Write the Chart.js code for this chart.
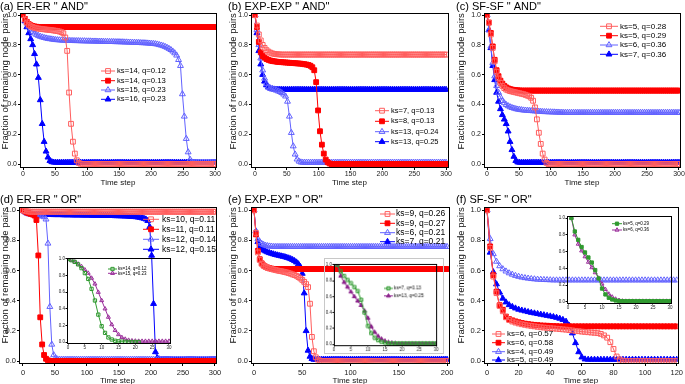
<!DOCTYPE html>
<html>
<head>
<meta charset="utf-8">
<script src="https://cdn.jsdelivr.net/npm/chart.js@4/dist/chart.umd.min.js"></script>
<style>
  body { margin: 0; background: #fff; width: 685px; height: 384px; position: relative; overflow: hidden; }
  canvas { position: absolute; }
</style>
</head>
<body>
<canvas id="pa" width="228" height="190" style="left:0;top:0"></canvas>
<canvas id="pb" width="228" height="190" style="left:228px;top:0"></canvas>
<canvas id="pc" width="229" height="190" style="left:456px;top:0"></canvas>
<canvas id="pd" width="228" height="194" style="left:0;top:190px"></canvas>
<canvas id="pe" width="228" height="194" style="left:228px;top:190px"></canvas>
<canvas id="pf" width="229" height="194" style="left:456px;top:190px"></canvas>
<canvas id="insetD" width="118" height="99" style="left:57px;top:253px"></canvas>
<canvas id="insetE" width="120" height="96" style="left:324px;top:258px;border:1px solid #c8c8c8"></canvas>
<canvas id="insetF" width="119" height="101" style="left:557px;top:211px"></canvas>
<script>
// time steps
const stepsA = [0,3,6,9,12,15,18,21,24,27,30,33,36,39,42,45,48,51,54,57,60,63,66,69,72,75,78,81,84,87,
  90,93,96,99,102,105,108,111,114,117,120,123,126,129,132,135,138,141,144,147,150,153,156,159,162,165,168,171,174,177,
  180,183,186,189,192,195,198,201,204,207,210,213,216,219,222,225,228,231,234,237,240,243,246,249,252,255,258,261,264,267,
  270,273,276,279,282,285,288,291,294,297,300];
const stepsE = [0,2,4,6,8,10,12,14,16,18,20,22,24,26,28,30,32,34,36,38,40,42,44,46,48,50,52,54,56,58,
  60,62,64,66,68,70,72,74,76,78,80,82,84,86,88,90,92,94,96,98,100,102,104,106,108,110,112,114,116,118,
  120,122,124,126,128,130,132,134,136,138,140,142,144,146,148,150,152,154,156,158,160,162,164,166,168,170,172,174,176,178,
  180,182,184,186,188,190,192,194,196,198,200];
const stepsF = [0,2,4,6,8,10,12,14,16,18,20,22,24,26,28,30,32,34,36,38,40,42,44,46,48,50,52,54,56,58,
  60,62,64,66,68,70,72,74,76,78,80,82,84,86,88,90,92,94,96,98,100,102,104,106,108,110,112,114,116,118,120];
const stepsInD = [0,1,2,3,4,5,6,7,8,9,10,11,12,13,14,15,16,17,18,19,20,21,22,23,24,25,26,27,28,29,30];
const stepsInEF = [1,2,3,4,5,6,7,8,9,10,11,12,13,14,15,16,17,18,19,20,21,22,23,24,25,26,27,28,29,30];

// tick labels
const fracTicks = [0, 0.2, 0.4, 0.6, 0.8, 1.0];
const stepTicks300 = [0, 50, 100, 150, 200, 250, 300];
const stepTicks200 = [0, 50, 100, 150, 200];
const stepTicks120 = [0, 20, 40, 60, 80, 100, 120];
const stepTicks30 = [0, 5, 10, 15, 20, 25, 30];

// legend labels
const labelsA = ['ks=14, q=0.12', 'ks=14, q=0.13', 'ks=15, q=0.23', 'ks=16, q=0.23'];
const labelsB = ['ks=7, q=0.13', 'ks=8, q=0.13', 'ks=13, q=0.24', 'ks=13, q=0.25'];
const labelsC = ['ks=5, q=0.28', 'ks=5, q=0.29', 'ks=6, q=0.36', 'ks=7, q=0.36'];
const labelsD = ['ks=10, q=0.11', 'ks=11, q=0.11', 'ks=12, q=0.14', 'ks=12, q=0.15'];
const labelsE = ['ks=9, q=0.26', 'ks=9, q=0.27', 'ks=6, q=0.21', 'ks=7, q=0.21'];
const labelsF = ['ks=6, q=0.57', 'ks=6, q=0.58', 'ks=4, q=0.49', 'ks=5, q=0.49'];
const labelsInD = ['ks=14, q=0.12', 'ks=15, q=0.23'];
const labelsInE = ['ks=7, q=0.13', 'ks=13, q=0.25'];
const labelsInF = ['ks=5, q=0.29', 'ks=6, q=0.36'];

// (a) ER-ER "AND"
const a1 = [1.0,0.97,0.95,0.935,0.925,0.92,0.915,0.912,0.91,0.908,
  0.906,0.905,0.903,0.902,0.9,0.899,0.897,0.895,0.893,0.89,
  0.886,0.878,0.85,0.76,0.48,0.27,0.15,0.07,0.025,0.008,
  0.002,0,0,0,0,0,0,0,0,0, 0,0,0,0,0,0,0,0,0,0, 0,0,0,0,0,0,0,0,0,0,
  0,0,0,0,0,0,0,0,0,0, 0,0,0,0,0,0,0,0,0,0, 0,0,0,0,0,0,0,0,0,0, 0,0,0,0,0,0,0,0,0,0, 0];
const a2 = [1.0,0.975,0.955,0.94,0.932,0.927,0.924,0.922,0.92,0.92,
  0.92,0.92,0.92,0.92,0.92,0.92,0.92,0.92,0.92,0.92, 0.92,0.92,0.92,0.92,0.92,0.92,0.92,0.92,0.92,0.92,
  0.92,0.92,0.92,0.92,0.92,0.92,0.92,0.92,0.92,0.92, 0.92,0.92,0.92,0.92,0.92,0.92,0.92,0.92,0.92,0.92,
  0.92,0.92,0.92,0.92,0.92,0.92,0.92,0.92,0.92,0.92, 0.92,0.92,0.92,0.92,0.92,0.92,0.92,0.92,0.92,0.92,
  0.92,0.92,0.92,0.92,0.92,0.92,0.92,0.92,0.92,0.92, 0.92,0.92,0.92,0.92,0.92,0.92,0.92,0.92,0.92,0.92,
  0.92,0.92,0.92,0.92,0.92,0.92,0.92,0.92,0.92,0.92, 0.92];
const a3 = [1.0,0.97,0.945,0.925,0.905,0.89,0.878,0.869,0.862,0.856,
  0.852,0.848,0.845,0.842,0.84,0.838,0.836,0.834,0.833,0.832,
  0.831,0.83,0.83,0.829,0.829,0.828,0.828,0.827,0.827,0.827,
  0.826,0.826,0.826,0.825,0.825,0.825,0.824,0.824,0.824,0.823,
  0.823,0.823,0.822,0.822,0.822,0.821,0.821,0.821,0.82,0.82,
  0.82,0.819,0.819,0.818,0.818,0.817,0.817,0.816,0.816,0.815,
  0.815,0.814,0.813,0.813,0.812,0.811,0.81,0.809,0.808,0.806,
  0.804,0.8,0.797,0.793,0.788,0.782,0.775,0.767,0.757,0.745,
  0.73,0.7,0.66,0.47,0.32,0.17,0.08,0.03,0.012,0.01,
  0.01,0.01,0.01,0.01,0.01,0.01,0.01,0.01,0.01,0.01, 0.01];
const a4 = [1.0,0.96,0.92,0.88,0.84,0.8,0.74,0.67,0.58,0.43,
  0.27,0.15,0.085,0.045,0.022,0.014,0.011,0.01,0.01,0.01,
  0.01,0.01,0.01,0.01,0.01,0.01,0.01,0.01,0.01,0.01, 0.01,0.01,0.01,0.01,0.01,0.01,0.01,0.01,0.01,0.01,
  0.01,0.01,0.01,0.01,0.01,0.01,0.01,0.01,0.01,0.01, 0.01,0.01,0.01,0.01,0.01,0.01,0.01,0.01,0.01,0.01,
  0.01,0.01,0.01,0.01,0.01,0.01,0.01,0.01,0.01,0.01, 0.01,0.01,0.01,0.01,0.01,0.01,0.01,0.01,0.01,0.01,
  0.01,0.01,0.01,0.01,0.01,0.01,0.01,0.01,0.01,0.01, 0.01,0.01,0.01,0.01,0.01,0.01,0.01,0.01,0.01,0.01, 0.01];

// (b) EXP-EXP "AND"
const b1 = [1.0,0.93,0.87,0.83,0.8,0.78,0.765,0.755,0.748,0.743,
  0.74,0.738,0.737,0.736,0.735,0.735,0.735,0.735,0.735,0.735,
  0.735,0.735,0.735,0.735,0.735,0.735,0.735,0.735,0.735,0.735, 0.735,0.735,0.735,0.735,0.735,0.735,0.735,0.735,0.735,0.735,
  0.735,0.735,0.735,0.735,0.735,0.735,0.735,0.735,0.735,0.735, 0.735,0.735,0.735,0.735,0.735,0.735,0.735,0.735,0.735,0.735,
  0.735,0.735,0.735,0.735,0.735,0.735,0.735,0.735,0.735,0.735, 0.735,0.735,0.735,0.735,0.735,0.735,0.735,0.735,0.735,0.735,
  0.735,0.735,0.735,0.735,0.735,0.735,0.735,0.735,0.735,0.735, 0.735,0.735,0.735,0.735,0.735,0.735,0.735,0.735,0.735,0.735, 0.735];
const b2 = [1.0,0.92,0.82,0.75,0.725,0.715,0.705,0.7,0.695,0.692,
  0.69,0.688,0.686,0.685,0.684,0.683,0.682,0.681,0.68,0.679,
  0.678,0.677,0.676,0.675,0.674,0.672,0.67,0.668,0.665,0.66,
  0.65,0.63,0.55,0.36,0.22,0.13,0.07,0.03,0.012,0.004,
  0,0,0,0,0,0,0,0,0,0, 0,0,0,0,0,0,0,0,0,0, 0,0,0,0,0,0,0,0,0,0,
  0,0,0,0,0,0,0,0,0,0, 0,0,0,0,0,0,0,0,0,0, 0,0,0,0,0,0,0,0,0,0, 0];
const b3 = [1.0,0.9,0.8,0.71,0.63,0.575,0.54,0.52,0.51,0.503,
  0.5,0.495,0.49,0.485,0.478,0.468,0.455,0.42,0.32,0.21,
  0.12,0.065,0.032,0.018,0.012,0.01,0.01,0.01,0.01,0.01,
  0.01,0.01,0.01,0.01,0.01,0.01,0.01,0.01,0.01,0.01, 0.01,0.01,0.01,0.01,0.01,0.01,0.01,0.01,0.01,0.01,
  0.01,0.01,0.01,0.01,0.01,0.01,0.01,0.01,0.01,0.01, 0.01,0.01,0.01,0.01,0.01,0.01,0.01,0.01,0.01,0.01,
  0.01,0.01,0.01,0.01,0.01,0.01,0.01,0.01,0.01,0.01, 0.01,0.01,0.01,0.01,0.01,0.01,0.01,0.01,0.01,0.01,
  0.01,0.01,0.01,0.01,0.01,0.01,0.01,0.01,0.01,0.01, 0.01];
const b4 = [1.0,0.88,0.76,0.67,0.6,0.555,0.53,0.515,0.508,0.504,
  0.502,0.5,0.5,0.5,0.5,0.5,0.5,0.5,0.5,0.5,
  0.5,0.5,0.5,0.5,0.5,0.5,0.5,0.5,0.5,0.5, 0.5,0.5,0.5,0.5,0.5,0.5,0.5,0.5,0.5,0.5,
  0.5,0.5,0.5,0.5,0.5,0.5,0.5,0.5,0.5,0.5, 0.5,0.5,0.5,0.5,0.5,0.5,0.5,0.5,0.5,0.5,
  0.5,0.5,0.5,0.5,0.5,0.5,0.5,0.5,0.5,0.5, 0.5,0.5,0.5,0.5,0.5,0.5,0.5,0.5,0.5,0.5,
  0.5,0.5,0.5,0.5,0.5,0.5,0.5,0.5,0.5,0.5, 0.5,0.5,0.5,0.5,0.5,0.5,0.5,0.5,0.5,0.5, 0.5];

// (c) SF-SF "AND"
const c1 = [1.0,0.95,0.87,0.78,0.69,0.62,0.575,0.545,0.525,0.51,
  0.5,0.495,0.49,0.487,0.484,0.481,0.478,0.475,0.472,0.469,
  0.465,0.46,0.455,0.445,0.425,0.38,0.3,0.21,0.135,0.07,
  0.03,0.008,0,0,0,0,0,0,0,0,
  0,0,0,0,0,0,0,0,0,0, 0,0,0,0,0,0,0,0,0,0, 0,0,0,0,0,0,0,0,0,0,
  0,0,0,0,0,0,0,0,0,0, 0,0,0,0,0,0,0,0,0,0, 0,0,0,0,0,0,0,0,0,0, 0];
const c2 = [1.0,0.95,0.88,0.79,0.7,0.63,0.59,0.56,0.54,0.525,
  0.515,0.508,0.503,0.5,0.498,0.496,0.495,0.494,0.493,0.493,
  0.493,0.493,0.493,0.493,0.493,0.493,0.493,0.493,0.493,0.493, 0.493,0.493,0.493,0.493,0.493,0.493,0.493,0.493,0.493,0.493,
  0.493,0.493,0.493,0.493,0.493,0.493,0.493,0.493,0.493,0.493, 0.493,0.493,0.493,0.493,0.493,0.493,0.493,0.493,0.493,0.493,
  0.493,0.493,0.493,0.493,0.493,0.493,0.493,0.493,0.493,0.493, 0.493,0.493,0.493,0.493,0.493,0.493,0.493,0.493,0.493,0.493,
  0.493,0.493,0.493,0.493,0.493,0.493,0.493,0.493,0.493,0.493, 0.493,0.493,0.493,0.493,0.493,0.493,0.493,0.493,0.493,0.493, 0.493];
const c3 = [1.0,0.9,0.79,0.68,0.59,0.525,0.48,0.45,0.425,0.41,
  0.398,0.39,0.383,0.378,0.374,0.37,0.367,0.365,0.363,0.361,
  0.36,0.359,0.358,0.357,0.356,0.355,0.354,0.353,0.352,0.351,
  0.35,0.35,0.349,0.349,0.348,0.348,0.347,0.347,0.346,0.346,
  0.345,0.345,0.345,0.345,0.345,0.345,0.345,0.345,0.345,0.345, 0.345,0.345,0.345,0.345,0.345,0.345,0.345,0.345,0.345,0.345,
  0.345,0.345,0.345,0.345,0.345,0.345,0.345,0.345,0.345,0.345, 0.345,0.345,0.345,0.345,0.345,0.345,0.345,0.345,0.345,0.345,
  0.345,0.345,0.345,0.345,0.345,0.345,0.345,0.345,0.345,0.345, 0.345,0.345,0.345,0.345,0.345,0.345,0.345,0.345,0.345,0.345, 0.345];
const c4 = [1.0,0.9,0.78,0.66,0.565,0.48,0.42,0.37,0.33,0.3,
  0.27,0.22,0.15,0.095,0.05,0.022,0.012,0.01,0.01,0.01,
  0.01,0.01,0.01,0.01,0.01,0.01,0.01,0.01,0.01,0.01, 0.01,0.01,0.01,0.01,0.01,0.01,0.01,0.01,0.01,0.01,
  0.01,0.01,0.01,0.01,0.01,0.01,0.01,0.01,0.01,0.01, 0.01,0.01,0.01,0.01,0.01,0.01,0.01,0.01,0.01,0.01,
  0.01,0.01,0.01,0.01,0.01,0.01,0.01,0.01,0.01,0.01, 0.01,0.01,0.01,0.01,0.01,0.01,0.01,0.01,0.01,0.01,
  0.01,0.01,0.01,0.01,0.01,0.01,0.01,0.01,0.01,0.01, 0.01,0.01,0.01,0.01,0.01,0.01,0.01,0.01,0.01,0.01, 0.01];

// (d) ER-ER "OR"
const d1 = [1.0,0.996,0.993,0.991,0.99,0.99,0.99,0.99,0.99,0.99,
  0.99,0.99,0.99,0.99,0.99,0.99,0.99,0.99,0.99,0.99, 0.99,0.99,0.99,0.99,0.99,0.99,0.99,0.99,0.99,0.99,
  0.99,0.99,0.99,0.99,0.99,0.99,0.99,0.99,0.99,0.99, 0.99,0.99,0.99,0.99,0.99,0.99,0.99,0.99,0.99,0.99,
  0.99,0.99,0.99,0.99,0.99,0.99,0.99,0.99,0.99,0.99, 0.99,0.99,0.99,0.99,0.99,0.99,0.99,0.99,0.99,0.99,
  0.99,0.99,0.99,0.99,0.99,0.99,0.99,0.99,0.99,0.99, 0.99,0.99,0.99,0.99,0.99,0.99,0.99,0.99,0.99,0.99,
  0.99,0.99,0.99,0.99,0.99,0.99,0.99,0.99,0.99,0.99, 0.99];
const d2 = [1.0,0.992,0.985,0.98,0.976,0.972,0.965,0.935,0.7,0.29,
  0.11,0.04,0.015,0.005,0,0,0,0,0,0,
  0,0,0,0,0,0,0,0,0,0, 0,0,0,0,0,0,0,0,0,0, 0,0,0,0,0,0,0,0,0,0, 0,0,0,0,0,0,0,0,0,0,
  0,0,0,0,0,0,0,0,0,0, 0,0,0,0,0,0,0,0,0,0, 0,0,0,0,0,0,0,0,0,0, 0,0,0,0,0,0,0,0,0,0, 0];
const d3 = [1.0,0.988,0.98,0.975,0.972,0.97,0.968,0.966,0.964,0.962,
  0.96,0.955,0.94,0.78,0.36,0.11,0.04,0.02,0.012,0.01,
  0.01,0.01,0.01,0.01,0.01,0.01,0.01,0.01,0.01,0.01, 0.01,0.01,0.01,0.01,0.01,0.01,0.01,0.01,0.01,0.01,
  0.01,0.01,0.01,0.01,0.01,0.01,0.01,0.01,0.01,0.01, 0.01,0.01,0.01,0.01,0.01,0.01,0.01,0.01,0.01,0.01,
  0.01,0.01,0.01,0.01,0.01,0.01,0.01,0.01,0.01,0.01, 0.01,0.01,0.01,0.01,0.01,0.01,0.01,0.01,0.01,0.01,
  0.01,0.01,0.01,0.01,0.01,0.01,0.01,0.01,0.01,0.01, 0.01,0.01,0.01,0.01,0.01,0.01,0.01,0.01,0.01,0.01, 0.01];
const d4 = [1.0,0.99,0.982,0.978,0.975,0.973,0.972,0.972,0.971,0.971,
  0.971,0.97,0.97,0.97,0.97,0.97,0.969,0.969,0.969,0.969,
  0.969,0.968,0.968,0.968,0.968,0.968,0.967,0.967,0.967,0.967,
  0.967,0.966,0.966,0.966,0.966,0.966,0.965,0.965,0.965,0.965,
  0.965,0.964,0.964,0.964,0.964,0.963,0.963,0.963,0.962,0.962,
  0.962,0.961,0.961,0.96,0.96,0.959,0.958,0.957,0.956,0.955,
  0.953,0.951,0.948,0.945,0.94,0.93,0.89,0.7,0.38,0.06,
  0.02,0.012,0.01,0.01,0.01,0.01,0.01,0.01,0.01,0.01,
  0.01,0.01,0.01,0.01,0.01,0.01,0.01,0.01,0.01,0.01, 0.01,0.01,0.01,0.01,0.01,0.01,0.01,0.01,0.01,0.01, 0.01];

// (e) EXP-EXP "OR"
const e1 = [1.0,0.85,0.72,0.67,0.645,0.632,0.624,0.618,0.614,0.61,
  0.607,0.604,0.601,0.598,0.596,0.593,0.59,0.587,0.583,0.579,
  0.574,0.57,0.565,0.557,0.548,0.538,0.525,0.51,0.49,0.38,
  0.16,0.065,0.025,0.01,0.003,0,0,0,0,0,
  0,0,0,0,0,0,0,0,0,0, 0,0,0,0,0,0,0,0,0,0, 0,0,0,0,0,0,0,0,0,0,
  0,0,0,0,0,0,0,0,0,0, 0,0,0,0,0,0,0,0,0,0, 0,0,0,0,0,0,0,0,0,0, 0];
const e2 = [1.0,0.84,0.73,0.675,0.648,0.634,0.626,0.62,0.616,0.613,
  0.611,0.61,0.61,0.61,0.61,0.61,0.61,0.61,0.61,0.61,
  0.61,0.61,0.61,0.61,0.61,0.61,0.61,0.61,0.61,0.61, 0.61,0.61,0.61,0.61,0.61,0.61,0.61,0.61,0.61,0.61,
  0.61,0.61,0.61,0.61,0.61,0.61,0.61,0.61,0.61,0.61, 0.61,0.61,0.61,0.61,0.61,0.61,0.61,0.61,0.61,0.61,
  0.61,0.61,0.61,0.61,0.61,0.61,0.61,0.61,0.61,0.61, 0.61,0.61,0.61,0.61,0.61,0.61,0.61,0.61,0.61,0.61,
  0.61,0.61,0.61,0.61,0.61,0.61,0.61,0.61,0.61,0.61, 0.61,0.61,0.61,0.61,0.61,0.61,0.61,0.61,0.61,0.61, 0.61];
const e3 = [1.0,0.86,0.81,0.79,0.778,0.771,0.766,0.763,0.761,0.76,
  0.758,0.758,0.758,0.758,0.758,0.758,0.758,0.758,0.758,0.758, 0.758,0.758,0.758,0.758,0.758,0.758,0.758,0.758,0.758,0.758,
  0.758,0.758,0.758,0.758,0.758,0.758,0.758,0.758,0.758,0.758, 0.758,0.758,0.758,0.758,0.758,0.758,0.758,0.758,0.758,0.758,
  0.758,0.758,0.758,0.758,0.758,0.758,0.758,0.758,0.758,0.758, 0.758,0.758,0.758,0.758,0.758,0.758,0.758,0.758,0.758,0.758,
  0.758,0.758,0.758,0.758,0.758,0.758,0.758,0.758,0.758,0.758, 0.758,0.758,0.758,0.758,0.758,0.758,0.758,0.758,0.758,0.758,
  0.758,0.758,0.758,0.758,0.758,0.758,0.758,0.758,0.758,0.758, 0.758];
const e4 = [1.0,0.86,0.79,0.76,0.745,0.735,0.728,0.722,0.717,0.713,
  0.709,0.705,0.702,0.699,0.696,0.693,0.69,0.686,0.682,0.677,
  0.671,0.664,0.655,0.643,0.625,0.58,0.45,0.2,0.07,0.03,
  0.015,0.01,0.01,0.01,0.01,0.01,0.01,0.01,0.01,0.01,
  0.01,0.01,0.01,0.01,0.01,0.01,0.01,0.01,0.01,0.01, 0.01,0.01,0.01,0.01,0.01,0.01,0.01,0.01,0.01,0.01,
  0.01,0.01,0.01,0.01,0.01,0.01,0.01,0.01,0.01,0.01, 0.01,0.01,0.01,0.01,0.01,0.01,0.01,0.01,0.01,0.01,
  0.01,0.01,0.01,0.01,0.01,0.01,0.01,0.01,0.01,0.01, 0.01,0.01,0.01,0.01,0.01,0.01,0.01,0.01,0.01,0.01, 0.01];

// (f) SF-SF "OR"
const f1 = [1.0,0.75,0.56,0.45,0.365,0.33,0.29,0.272,0.262,0.255,
  0.249,0.244,0.24,0.236,0.233,0.23,0.227,0.224,0.222,0.22,
  0.218,0.216,0.214,0.212,0.21,0.208,0.205,0.203,0.2,0.198,
  0.195,0.193,0.191,0.189,0.187,0.185,0.18,0.17,0.155,0.125,
  0.08,0.03,0.01,0.002,0,0,0,0,0,0, 0,0,0,0,0,0,0,0,0,0, 0];
const f2 = [1.0,0.76,0.57,0.46,0.37,0.34,0.295,0.278,0.27,0.263,
  0.257,0.252,0.248,0.245,0.242,0.24,0.238,0.236,0.235,0.234,
  0.233,0.232,0.231,0.23,0.23,0.23,0.23,0.23,0.23,0.23,
  0.23,0.23,0.23,0.23,0.23,0.23,0.23,0.23,0.23,0.23, 0.23,0.23,0.23,0.23,0.23,0.23,0.23,0.23,0.23,0.23,
  0.23,0.23,0.23,0.23,0.23,0.23,0.23,0.23,0.23,0.23, 0.23];
const f3 = [1.0,0.81,0.71,0.66,0.63,0.61,0.595,0.583,0.574,0.566,
  0.56,0.555,0.551,0.548,0.545,0.543,0.541,0.54,0.539,0.538,
  0.537,0.536,0.536,0.536,0.536,0.536,0.536,0.536,0.536,0.536,
  0.536,0.536,0.536,0.536,0.536,0.536,0.536,0.536,0.536,0.536, 0.536,0.536,0.536,0.536,0.536,0.536,0.536,0.536,0.536,0.536,
  0.536,0.536,0.536,0.536,0.536,0.536,0.536,0.536,0.536,0.536, 0.536];
const f4 = [1.0,0.72,0.59,0.51,0.455,0.415,0.39,0.372,0.36,0.35,
  0.342,0.336,0.331,0.326,0.321,0.317,0.313,0.309,0.305,0.301,
  0.297,0.293,0.288,0.282,0.274,0.262,0.235,0.185,0.12,0.06,
  0.025,0.012,0.01,0.01,0.01,0.01,0.01,0.01,0.01,0.01,
  0.01,0.01,0.01,0.01,0.01,0.01,0.01,0.01,0.01,0.01, 0.01,0.01,0.01,0.01,0.01,0.01,0.01,0.01,0.01,0.01, 0.01];

// insets (first 30 steps)
const inD1 = [1.0,0.985,0.965,0.935,0.89,0.83,0.76,0.64,0.5,0.33,0.19,0.11,0.055,0.03,0.015,0.008,0.004,0.002,0.001,0,0,0];
const inD2 = [1.0,0.985,0.965,0.94,0.91,0.87,0.83,0.77,0.7,0.6,0.5,0.4,0.3,0.21,0.14,0.09,0.055,0.035,0.022,0.015,
  0.012,0.01,0.01,0.01,0.01,0.01,0.01,0.01,0.01,0.01,0.01];
const inE1 = [1.0,0.92,0.86,0.81,0.77,0.72,0.67,0.56,0.4,0.23,0.14,0.08,0.05,0.03,0.02,0.012,0.01,0.01,0.01,0.01,
  0.01,0.01,0.01,0.01,0.01,0.01,0.01,0.01,0.01,0.01];
const inE2 = [1.0,0.86,0.78,0.72,0.66,0.6,0.545,0.49,0.42,0.33,0.22,0.15,0.1,0.065,0.04,0.025,0.017,0.013,0.01,0.01,
  0.01,0.01,0.01,0.01,0.01,0.01,0.01,0.01,0.01,0.01];
const inF1 = [1.0,0.84,0.74,0.655,0.59,0.53,0.47,0.38,0.28,0.16,0.09,0.05,0.03,0.018,0.012,0.01,0.01,0.01,0.01,0.01,
  0.01,0.01,0.01,0.01,0.01,0.01,0.01,0.01,0.01,0.01];
const inF2 = [1.0,0.8,0.69,0.61,0.54,0.475,0.41,0.35,0.285,0.215,0.15,0.095,0.06,0.035,0.02,0.012,0.01,0.01,0.01,0.01,
  0.01,0.01,0.01,0.01,0.01,0.01,0.01,0.01,0.01,0.01];

const FONT = '"Liberation Sans", Arial, sans-serif';
Chart.defaults.font.family = FONT;
Chart.defaults.color = '#111';

const redOpen = { color: '#ff5e5e', shape: 'rect', filled: false };
const red = { color: '#ff0000', shape: 'rect', filled: true };
const blueOpen = { color: '#6262ff', shape: 'triangle', filled: false };
const blue = { color: '#0000ff', shape: 'triangle', filled: true };
const greenOpen = { color: '#2f9a2f', shape: 'rect', filled: false };
const green = { color: '#2f9a2f', shape: 'rect', filled: true };
const purpleOpen = { color: '#9a2e9a', shape: 'triangle', filled: false };
const purple = { color: '#8a1f8a', shape: 'triangle', filled: true };

function series(label, steps, values, st, r) {
    return {
        label: label,
        data: values.map((v, i) => ({ x: steps[i], y: v })),
        borderColor: st.color,
        backgroundColor: st.color,
        borderWidth: 1,
        pointStyle: st.shape,
        pointRadius: r,
        pointBorderWidth: 1,
        pointBorderColor: st.color,
        pointBackgroundColor: st.filled ? st.color : 'rgba(0,0,0,0)',
        tension: 0
    };
}

function drawMarker(ctx, shape, x, y, r, stroke, fill) {
    ctx.beginPath();
    if (shape === 'rect') {
        const s = r * Math.SQRT1_2;
        ctx.rect(x - s, y - s, 2 * s, 2 * s);
    } else {
        for (let k = 0; k < 3; k++) {
            const a = k * 2 * Math.PI / 3;
            const px = x + Math.sin(a) * r, py = y - Math.cos(a) * r;
            if (k === 0) ctx.moveTo(px, py); else ctx.lineTo(px, py);
        }
        ctx.closePath();
    }
    ctx.fillStyle = fill;
    ctx.fill();
    ctx.strokeStyle = stroke;
    ctx.lineWidth = 1;
    ctx.stroke();
}

// box around the plot area
const framePlugin = {
    id: 'frame',
    afterDatasetsDraw(chart) {
        const a = chart.chartArea;
        const ctx = chart.ctx;
        ctx.save();
        ctx.strokeStyle = '#000';
        ctx.lineWidth = 1;
        ctx.strokeRect(Math.round(a.left) + 0.5, Math.round(a.top) + 0.5,
            Math.round(a.right - a.left), Math.round(a.bottom - a.top));
        ctx.restore();
    }
};

// legend drawn inside the plot, like the original figure
const inLegendPlugin = {
    id: 'inlegend',
    afterDraw(chart, args, o) {
        if (!o || !o.ys) return;
        const ctx = chart.ctx;
        ctx.save();
        chart.data.datasets.forEach((ds, i) => {
            const y = o.ys[i];
            ctx.strokeStyle = ds.borderColor;
            ctx.lineWidth = 1;
            ctx.beginPath();
            ctx.moveTo(o.x0, y);
            ctx.lineTo(o.x1, y);
            ctx.stroke();
            drawMarker(ctx, ds.pointStyle, (o.x0 + o.x1) / 2, y, o.r, ds.borderColor, ds.pointBackgroundColor);
            ctx.fillStyle = '#000';
            ctx.font = o.size + 'px ' + FONT;
            ctx.textBaseline = 'middle';
            ctx.textAlign = 'left';
            ctx.fillText(ds.label, o.tx, y);
        });
        ctx.restore();
    }
};

function makePanel(id, p) {
    const small = !!p.inset;
    const tickFont = { size: p.tickSize };
    return new Chart(document.getElementById(id), {
        type: 'line',
        data: { datasets: p.datasets },
        options: {
            responsive: false,
            animation: false,
            devicePixelRatio: 1,
            events: [],
            layout: { padding: p.pad },
            plugins: {
                legend: { display: false },
                tooltip: { enabled: false },
                title: p.title ? {
                    display: true, text: p.title, align: 'start', color: '#000',
                    font: { size: 11, weight: 'normal' }, padding: p.titlePad
                } : { display: false },
                inlegend: p.legend
            },
            scales: {
                x: {
                    type: 'linear', min: p.xMin, max: p.xMax,
                    afterBuildTicks: s => { s.ticks = p.xTicks.map(v => ({ value: v })); },
                    afterFit: s => { s.height = p.xh; },
                    ticks: { font: tickFont, padding: p.xTickPad, autoSkip: false, maxRotation: 0, minRotation: 0, color: '#222',
                        callback: v => String(v) },
                    grid: { display: true, drawOnChartArea: false, drawTicks: true, tickLength: small ? 1.5 : 3, color: '#000' },
                    border: { display: true, color: '#000' },
                    title: small ? { display: false } : {
                        display: true, text: 'Time step', color: '#111',
                        font: { size: 8 }, padding: { top: 0, bottom: p.xTitlePad }
                    }
                },
                y: {
                    type: 'linear', min: p.yMin, max: p.yMax,
                    afterBuildTicks: s => { s.ticks = fracTicks.map(v => ({ value: v })); },
                    afterFit: s => { s.width = p.yw; },
                    ticks: { font: tickFont, padding: small ? 0.5 : 1, autoSkip: false, color: '#222',
                        callback: v => v.toFixed(1) },
                    grid: { display: true, drawOnChartArea: false, drawTicks: true, tickLength: small ? 1.5 : 2, color: '#000' },
                    border: { display: true, color: '#000' },
                    title: small ? { display: false } : {
                        display: true, text: 'Fraction of remaining node pairs', color: '#111',
                        align: 'end', font: { size: 9.5 }, padding: { top: 0, bottom: 0 }
                    }
                }
            }
        },
        plugins: [framePlugin, inLegendPlugin]
    });
}

const R = 3.4;
const topRow = { yMin: -0.02, yMax: 1.013, xh: 23, titlePad: { top: 0, bottom: 0 }, tickSize: 7, xTickPad: 0, xTitlePad: 2 };
const botRow = { yMin: -0.013, yMax: 1.02, xh: 21, titlePad: { top: 3, bottom: 1 }, tickSize: 7.5, xTickPad: 2, xTitlePad: -1.5 };

makePanel('pa', Object.assign({}, topRow, {
    title: '(a) ER-ER " AND"', pad: { left: 0, right: 12, top: 0, bottom: 0 }, yw: 20,
    xMin: -4.7, xMax: 301.5, xTicks: stepTicks300,
    datasets: [series(labelsA[0], stepsA, a1, redOpen, R), series(labelsA[1], stepsA, a2, red, R),
        series(labelsA[2], stepsA, a3, blueOpen, R), series(labelsA[3], stepsA, a4, blue, R)],
    legend: { x0: 101, x1: 115, tx: 117, ys: [71, 80.7, 90, 99.3], size: 7.7, r: R }
}));
makePanel('pb', Object.assign({}, topRow, {
    title: '(b) EXP-EXP " AND"', pad: { left: 0, right: 8, top: 0, bottom: 0 }, yw: 23,
    xMin: -6.3, xMax: 303, xTicks: stepTicks300,
    datasets: [series(labelsB[0], stepsA, b1, redOpen, R), series(labelsB[1], stepsA, b2, red, R),
        series(labelsB[2], stepsA, b3, blueOpen, R), series(labelsB[3], stepsA, b4, blue, R)],
    legend: { x0: 147, x1: 161, tx: 163, ys: [110.7, 121.3, 131.7, 141.7], size: 7.5, r: R }
}));
makePanel('pc', Object.assign({}, topRow, {
    title: '(c) SF-SF " AND"', pad: { left: 0, right: 5, top: 0, bottom: 0 }, yw: 28,
    xMin: -4.7, xMax: 301.6, xTicks: stepTicks300,
    datasets: [series(labelsC[0], stepsA, c1, redOpen, R), series(labelsC[1], stepsA, c2, red, R),
        series(labelsC[2], stepsA, c3, blueOpen, R), series(labelsC[3], stepsA, c4, blue, R)],
    legend: { x0: 144, x1: 162, tx: 164, ys: [26.3, 35.7, 45, 54.3], size: 8, r: R }
}));
makePanel('pd', Object.assign({}, botRow, {
    title: '(d) ER-ER " OR"', pad: { left: 0, right: 12, top: 0, bottom: 0 }, yw: 19,
    xMin: -6.2, xMax: 301.6, xTicks: stepTicks300,
    datasets: [series(labelsD[0], stepsA, d1, redOpen, R), series(labelsD[1], stepsA, d2, red, R),
        series(labelsD[2], stepsA, d3, blueOpen, R), series(labelsD[3], stepsA, d4, blue, R)],
    legend: { x0: 143, x1: 159, tx: 162, ys: [29.3, 39.3, 49.3, 59.3], size: 8.5, r: R }
}));
makePanel('pe', Object.assign({}, botRow, {
    title: '(e) EXP-EXP " OR"', pad: { left: 0, right: 7, top: 0, bottom: 0 }, yw: 23,
    xMin: -3.1, xMax: 202, xTicks: stepTicks200,
    datasets: [series(labelsE[0], stepsE, e1, redOpen, R), series(labelsE[1], stepsE, e2, red, R),
        series(labelsE[2], stepsE, e3, blueOpen, R), series(labelsE[3], stepsE, e4, blue, R)],
    legend: { x0: 152, x1: 167, tx: 168, ys: [24, 33.3, 42.7, 51.7], size: 8.5, r: R }
}));
makePanel('pf', Object.assign({}, botRow, {
    title: '(f) SF-SF " OR"', pad: { left: 0, right: 5, top: 0, bottom: 0 }, yw: 28,
    xMin: -1.9, xMax: 120.6, xTicks: stepTicks120,
    datasets: [series(labelsF[0], stepsF, f1, redOpen, R), series(labelsF[1], stepsF, f2, red, R),
        series(labelsF[2], stepsF, f3, blueOpen, R), series(labelsF[3], stepsF, f4, blue, R)],
    legend: { x0: 36, x1: 49, tx: 51, ys: [144, 152.7, 161.7, 170], size: 8, r: R }
}));

const RI = 2.3;
const insetBase = { inset: true, tickSize: 4.5, xTickPad: 0.5, xTicks: stepTicks30 };
makePanel('insetD', Object.assign({}, insetBase, {
    pad: { left: 0, right: 3, top: 4, bottom: 0 }, yw: 10, xh: 9,
    xMin: -0.3, xMax: 30.3, yMin: -0.012, yMax: 1.012,
    datasets: [series(labelsInD[0], stepsInD, inD1, greenOpen, RI), series(labelsInD[1], stepsInD, inD2, purpleOpen, RI)],
    legend: { x0: 51, x1: 60, tx: 61, ys: [16, 20.3], size: 4.5, r: RI }
}));
makePanel('insetE', Object.assign({}, insetBase, {
    pad: { left: 0, right: 7, top: 2, bottom: 0 }, yw: 9, xh: 8,
    xMin: 0, xMax: 30, yMin: -0.012, yMax: 1.012,
    datasets: [series(labelsInE[0], stepsInEF, inE1, greenOpen, RI), series(labelsInE[1], stepsInEF, inE2, purple, RI)],
    legend: { x0: 60, x1: 69, tx: 70, ys: [30, 37.7], size: 4.8, r: RI }
}));
makePanel('insetF', Object.assign({}, insetBase, {
    pad: { left: 0, right: 3, top: 4, bottom: 0 }, yw: 10, xh: 9,
    xMin: -0.3, xMax: 30.3, yMin: -0.012, yMax: 1.024,
    datasets: [series(labelsInF[0], stepsInEF, inF1, green, RI), series(labelsInF[1], stepsInEF, inF2, purpleOpen, RI)],
    legend: { x0: 55, x1: 65, tx: 66, ys: [12.7, 19], size: 4.5, r: RI }
}));
</script>
</body>
</html>
